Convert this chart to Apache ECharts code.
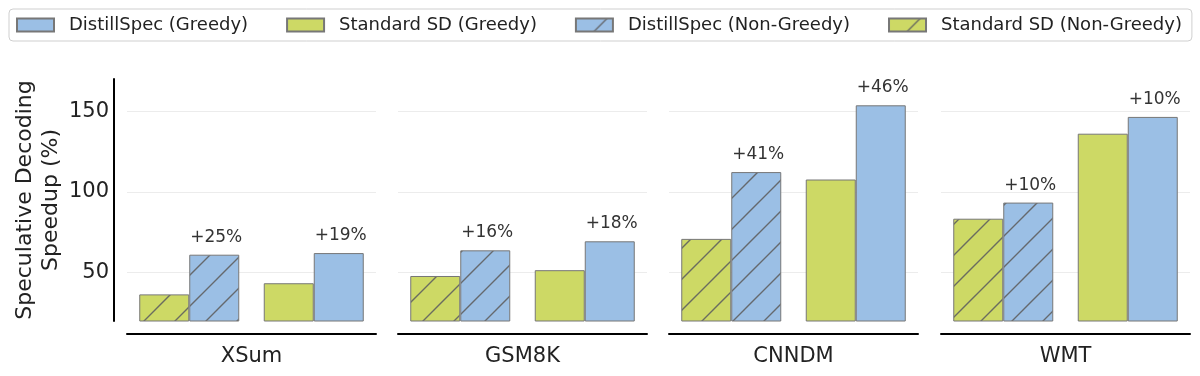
<!DOCTYPE html>
<html>
<head>
<meta charset="utf-8">
<script src="https://cdn.jsdelivr.net/npm/echarts@6/dist/echarts.min.js"></script>
<style>
  html, body { margin: 0; background: #fff; }
  #chart { width: 1200px; height: 376px; }
</style>
</head>
<body>
<div id="chart"></div>
<script>
// 数据
const datasets = ['XSum', 'GSM8K', 'CNNDM', 'WMT'];
const modes = ['Non-Greedy', 'Greedy'];
const sdNonGreedy = [36.5, 47.9, 70.9, 83.4];
const dsNonGreedy = [61.1, 63.8, 112.3, 93.4];
const sdGreedy = [43.4, 51.5, 107.7, 136.1];
const dsGreedy = [62.1, 69.4, 153.7, 146.5];
const gainNonGreedy = ['+25%', '+16%', '+41%', '+10%'];
const gainGreedy = ['+19%', '+18%', '+46%', '+10%'];
const yTicks = [50, 100, 150];

const BLUE = '#9bbfe5';
const GREEN = '#cdd965';
const EDGE = '#777777';

// 斜线填充
function hatch(base) {
  const s = 31;
  const c = document.createElement('canvas');
  c.width = s; c.height = s;
  const ctx = c.getContext('2d');
  ctx.fillStyle = base;
  ctx.fillRect(0, 0, s, s);
  ctx.strokeStyle = 'rgba(95,95,95,0.9)';
  ctx.lineWidth = 1.4;
  ctx.beginPath();
  ctx.moveTo(-1, s + 1); ctx.lineTo(s + 1, -1);
  ctx.moveTo(-2, 2); ctx.lineTo(2, -2);
  ctx.moveTo(s - 2, s + 2); ctx.lineTo(s + 2, s - 2);
  ctx.stroke();
  return { image: c, repeat: 'repeat' };
}

const lefts = [127, 398, 669, 941];
const grids = [], xAxes = [], yAxes = [], series = [];

datasets.forEach((name, i) => {
  grids.push({ left: lefts[i], top: 79, width: 249, height: 242 });
  xAxes.push({
    type: 'category', gridIndex: i, data: modes,
    offset: 13,
    axisLine: { lineStyle: { color: '#000', width: 2 } },
    axisTick: { show: false },
    axisLabel: { show: false },
    name: name, nameLocation: 'middle', nameGap: 12,
    nameTextStyle: { fontSize: 21, color: '#222' }
  });
  yAxes.push({
    type: 'value', gridIndex: i, min: 20, max: 170,
    offset: 13,
    axisLine: { show: i === 0, lineStyle: { color: '#000', width: 2 } },
    axisTick: { show: false, customValues: yTicks },
    axisLabel: { show: i === 0, customValues: yTicks, fontSize: 21, color: '#222', margin: 5 },
    splitLine: { lineStyle: { color: '#ececec', width: 1 } },
    name: i === 0 ? 'Speculative Decoding\nSpeedup (%)' : '',
    nameLocation: 'middle', nameGap: 50,
    nameTextStyle: { fontSize: 22, color: '#222', lineHeight: 26 }
  });

  const common = { type: 'bar', xAxisIndex: i, yAxisIndex: i, barWidth: 50, barGap: 0 };
  series.push({
    ...common, name: 'Standard SD (Non-Greedy)', stack: 'sd' + i,
    itemStyle: { color: hatch(GREEN), borderColor: EDGE, borderWidth: 1 },
    data: [sdNonGreedy[i], '-']
  });
  series.push({
    ...common, name: 'Standard SD (Greedy)', stack: 'sd' + i,
    itemStyle: { color: GREEN, borderColor: EDGE, borderWidth: 1 },
    data: ['-', sdGreedy[i]]
  });
  series.push({
    ...common, name: 'DistillSpec (Non-Greedy)', stack: 'ds' + i,
    itemStyle: { color: hatch(BLUE), borderColor: EDGE, borderWidth: 1 },
    label: { show: true, position: 'top', distance: 9, offset: [2, 0], fontSize: 17, color: '#333',
             formatter: () => gainNonGreedy[i] },
    data: [dsNonGreedy[i], '-']
  });
  series.push({
    ...common, name: 'DistillSpec (Greedy)', stack: 'ds' + i,
    itemStyle: { color: BLUE, borderColor: EDGE, borderWidth: 1 },
    label: { show: true, position: 'top', distance: 9, offset: [2, 0], fontSize: 17, color: '#333',
             formatter: () => gainGreedy[i] },
    data: ['-', dsGreedy[i]]
  });
});

const chart = echarts.init(document.getElementById('chart'), null, { renderer: 'canvas' });
chart.setOption({
  animation: false,
  textStyle: { fontFamily: 'DejaVu Sans' },
  legend: {
    data: ['DistillSpec (Greedy)', 'Standard SD (Greedy)', 'DistillSpec (Non-Greedy)', 'Standard SD (Non-Greedy)'],
    left: 9, top: 9,
    padding: [7, 10, 7, 7],
    itemWidth: 37, itemHeight: 13, itemGap: 38,
    icon: 'rect',
    borderColor: '#cfcfcf', borderWidth: 1, borderRadius: 4,
    textStyle: { fontSize: 18, color: '#222', padding: [0, 0, 0, 10] }
  },
  grid: grids,
  xAxis: xAxes,
  yAxis: yAxes,
  series: series
});
</script>
</body>
</html>
